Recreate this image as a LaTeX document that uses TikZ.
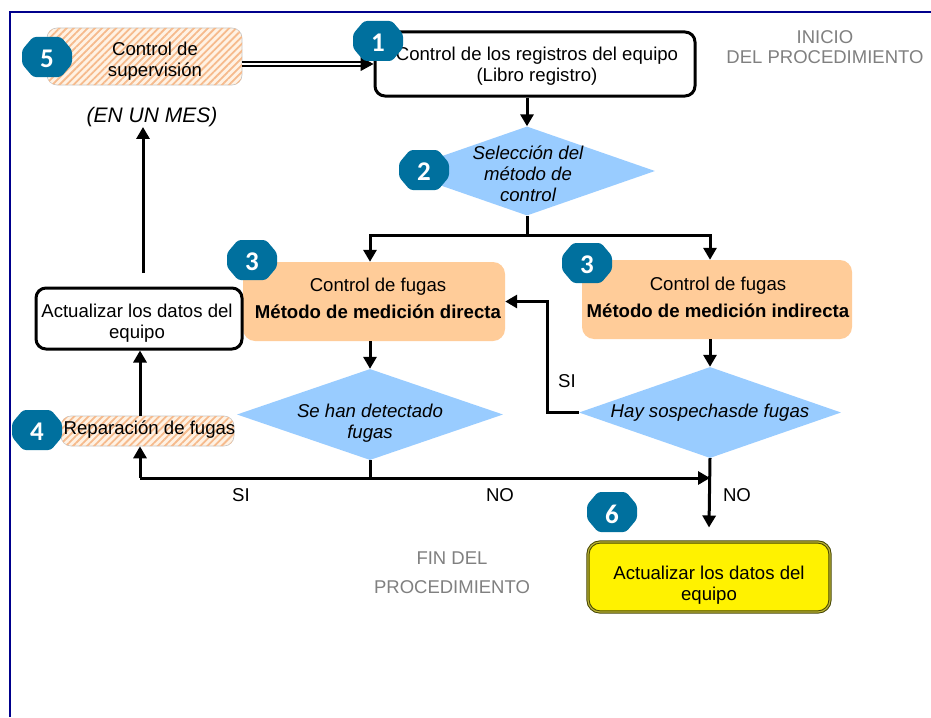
\documentclass[tikz,border=0pt]{standalone}
\usepackage{fontspec}
\setmainfont{Liberation Sans}
\newfontfamily\badgefont{Carlito}
\usetikzlibrary{arrows.meta,shapes.geometric,patterns.meta,calc}
\definecolor{badgecol}{RGB}{0,112,158}
\definecolor{peach}{RGB}{255,204,153}
\definecolor{dblue}{RGB}{153,204,255}
\definecolor{hatchbg}{RGB}{255,242,228}
\definecolor{hatchfg}{RGB}{246,186,140}
\definecolor{graytxt}{RGB}{128,128,128}
\definecolor{framecol}{RGB}{0,0,140}
\definecolor{yborder}{RGB}{70,70,0}
\newcommand{\mybadge}[3]{%
  \fill[badgecol, rounded corners=3pt, shift={(#1)}] (-25,-7) -- (-14,-20) -- (14,-20) -- (25,-7) -- (25,7) -- (14,20) -- (-14,20) -- (-25,7) -- cycle;
  \node[badgenum] (#3) at ($(#1)+(0,2)$) {#2};}
\begin{document}
\begin{tikzpicture}[x=1pt,y=-1pt,
  txt/.style={font=\fontsize{18.6}{21}\selectfont, align=center, inner sep=0pt},
  itxt/.style={font=\fontsize{18.6}{21}\selectfont\itshape, align=center, inner sep=0pt},
  gtxt/.style={font=\fontsize{18.5}{20}\selectfont, text=graytxt, align=center, inner sep=0pt},
  box/.style={draw=black, line width=3pt, rounded corners=10pt, fill=white, inner sep=0pt},
  fbox/.style={fill=peach, rounded corners=12pt, inner sep=0pt},
  hbox/.style={draw=gray!45, line width=0.6pt, rounded corners=10pt, fill=hatchbg,
     postaction={pattern={Lines[angle=45,distance=5pt,line width=1.8pt]}, pattern color=hatchfg}, inner sep=0pt},
  ybox/.style={draw=yborder, line width=1pt, double=yellow!70!black, double distance=1.2pt, fill=yellow, rounded corners=12pt, inner sep=0pt},
  dia/.style={diamond, fill=dblue, inner sep=0pt},
  conn/.style={line width=3pt},
  arr/.style={conn, -{Triangle[length=12pt,width=13pt]}},
  badgenum/.style={text=white, font=\badgefont\bfseries\fontsize{27}{27}\selectfont, inner sep=0pt},
  lbl/.style={font=\fontsize{18.6}{21}\selectfont, inner sep=0pt}]
\useasboundingbox (0,0) rectangle (931,717);
\fill[white] (0,0) rectangle (931,717);
% frame
\draw[framecol, line width=2pt] (10,717) -- (10,12) -- (931,12);

% boxes
\node[hbox, minimum width=195pt, minimum height=57pt] (b5) at (144.5,56.5) {};
\node[txt] (t5) at (155,61) {Control de\\supervisión};
\node[box, minimum width=320pt, minimum height=64pt] (b1) at (535,64) {};
\node[txt] (t1) at (537,66) {Control de los registros del equipo\\(Libro registro)};
\node[dia, minimum width=256pt, minimum height=89pt] (d2) at (527,171) {};
\node[itxt] (t2) at (528,174) {Selección del\\método de\\control};
\node[fbox, minimum width=262pt, minimum height=79pt] (b3L) at (374,301.5) {};
\node[txt] (t3L) at (378,298) {Control de fugas\\[6pt]\textbf{Método de medición directa}};
\node[fbox, minimum width=270pt, minimum height=79pt] (b3R) at (717,299.5) {};
\node[txt] (t3R) at (718,297) {Control de fugas\\[6pt]\textbf{Método de medición indirecta}};
\node[dia, minimum width=266pt, minimum height=91pt] (dL) at (370,414.5) {};
\node[itxt] (tL) at (370,423) {Se han detectado\\fugas};
\node[dia, minimum width=262pt, minimum height=91pt] (dR) at (710,412.5) {};
\node[itxt] (tR) at (710,413) {Hay sospechasde fugas};
\node[box, minimum width=206pt, minimum height=61pt] (act) at (139,318.5) {};
\node[txt] (tact) at (137,323) {Actualizar los datos del\\equipo};
\node[hbox, minimum width=173pt, minimum height=30pt] (b4) at (147.5,431) {};
\node[txt] (t4) at (149.5,430) {Reparación de fugas};
\node[ybox, minimum width=242pt, minimum height=70pt] (b6) at (709,577) {};
\node[txt] (t6) at (709,585) {Actualizar los datos del\\equipo};

% free texts
\node[gtxt] (ini) at (825,47) {INICIO\\DEL PROCEDIMIENTO};
\node[gtxt] (fin) at (452,573) {FIN DEL\\[9pt]PROCEDIMIENTO};
\node[font=\fontsize{21}{24}\selectfont\itshape, inner sep=0pt] (emes) at (152,117) {(EN UN MES)};

% connectors
\draw[line width=1.6pt, double=white, double distance=2pt] (b5.east |- b1.west) -- ([xshift=-11pt]b1.west);
\draw[-{Triangle[length=13pt,width=14pt]}, line width=1pt] ([xshift=-12pt]b1.west) -- (b1.west);
\draw[arr] (d2.north |- b1.south) -- (d2.north);
\coordinate (hub) at (527,235);
\draw[conn] (d2.south) -- (hub);
\draw[arr] (hub) -| (dL.north |- b3L.north);
\draw[arr] (hub) -| (dR.north |- b3R.north);
\draw[arr] (dL.north |- b3L.south) -- (dL.north);
\draw[arr] (dR.north |- b3R.south) -- (dR.north);
\draw[arr] (dR.west) -- ++(-31,0) |- (b3L.east);
\coordinate (j1) at (140,478);
\draw[conn] (dL.south) -- (dL.south |- j1);
\draw[arr] (j1) -- (j1 -| dR.south);
\draw[arr] (j1) -- (j1 |- b4.south);
\draw[arr] (j1 |- b4.north) -- (j1 |- act.south);
\coordinate (upstart) at (143,273);
\draw[arr] (upstart) -- (upstart |- emes.south);
\draw[arr] (dR.south) -- ([yshift=14pt]b6.north);

% labels
\node[lbl] (siR) at (567,381) {SI};
\node[lbl] (siL) at (241,495) {SI};
\node[lbl] (noL) at (500,495) {NO};
\node[lbl] (noR) at (737,495) {NO};

% badges
\mybadge{47,57}{5}{n5}
\mybadge{378,41}{1}{n1}
\mybadge{424,170}{2}{n2}
\mybadge{252,260}{3}{n3a}
\mybadge{587,263}{3}{n3b}
\mybadge{37,430}{4}{n4}
\mybadge{612,512}{6}{n6}
\end{tikzpicture}
\end{document}
